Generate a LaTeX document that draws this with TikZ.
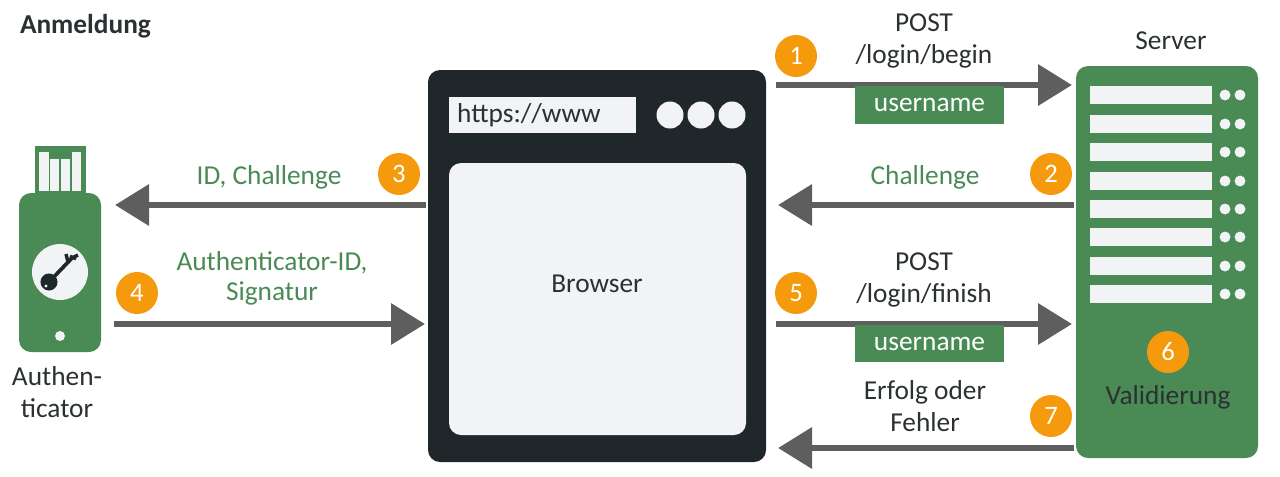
\documentclass[tikz,border=0pt]{standalone}
\usepackage{fontspec}
\setmainfont{Carlito}
\usetikzlibrary{arrows.meta}
\definecolor{gr}{HTML}{4A8A54}
\definecolor{dark}{HTML}{20272B}
\definecolor{txt}{HTML}{2B3033}
\definecolor{pale}{HTML}{F1F3F5}
\definecolor{org}{HTML}{F59A0C}
\definecolor{arr}{HTML}{5E5E5E}
\tikzset{
  x=0.75pt,y=-0.75pt,
  flow/.style={draw=arr,line width=5pt,-{Triangle[length=25.5pt,width=30pt,fill=arr]},shorten >=0pt},
  badge/.style={circle,fill=org,text=white,inner sep=0pt,outer sep=0pt,minimum size=31.5pt,font=\fontsize{20pt}{22pt}\selectfont},
  lbl/.style={text=txt,inner sep=0pt,outer sep=0pt,align=center,font=\fontsize{20.5pt}{22.5pt}\selectfont},
  glbl/.style={lbl,text=gr},
  tag/.style={fill=gr,text=white,inner sep=0pt,outer sep=0pt,minimum width=111.75pt,minimum height=28pt,font=\fontsize{20.5pt}{22.5pt}\selectfont},
  box/.style={inner sep=0pt,outer sep=0pt,rounded corners=9pt},
  dot/.style={circle,fill=pale,inner sep=0pt,outer sep=0pt},
}
\begin{document}
\begin{tikzpicture}
\useasboundingbox (0,0) rectangle (1280,476);
% Browser
\node[box,fill=dark,minimum width=253.5pt,minimum height=294pt] (browser) at (597,266) {};
\node[box,fill=pale,minimum width=222.75pt,minimum height=204pt] (panel) at (597.5,299) {};
\node[fill=pale,inner sep=0pt,outer sep=0pt,minimum width=140.25pt,minimum height=27pt] (addr) at (542.5,115) {};
\node[lbl] (url) at (529,115) {https://www};
\node[dot,minimum size=20.25pt] (b1) at (670,115) {};
\node[dot,minimum size=20.25pt] (b2) at (701,115) {};
\node[dot,minimum size=20.25pt] (b3) at (732,115) {};
\node[lbl] (browsertext) at (597,284) {Browser};
% Server
\node[box,fill=gr,minimum width=136.5pt,minimum height=294pt] (server) at (1167,262) {};
\foreach \i/\a/\b in {1/86/104,2/115/133,3/143/161,4/172/190,5/200/218,6/228/246,7/257/275,8/285/303}{
  \fill[pale] (1090,\a) rectangle (1212,\b);
  \fill[pale] (1225,{(\a+\b)/2}) circle[radius=4.1pt];
  \fill[pale] (1240,{(\a+\b)/2}) circle[radius=4.1pt];
}
\node[lbl] (servertext) at (1171,41) {Server};
\node[lbl] (valid) at (1168,397) {Validierung};
% Authenticator
\fill[gr] (35,146) rectangle (86,195);
\fill[pale] (39,152) rectangle (49,191);
\fill[pale] (50,159) rectangle (59,191);
\fill[pale] (61,159) rectangle (70,191);
\fill[pale] (72,152) rectangle (81,191);
\node[box,fill=gr,minimum width=61.5pt,minimum height=119.25pt] (auth) at (60,272.5) {};
\node[dot,minimum size=42pt] (keydisc) at (60,272) {};
\node[dot,minimum size=7.5pt] (hole) at (60,336) {};
\fill[dark] (49,282) circle[radius=6.4pt];
\draw[dark,line width=2.8pt] (49,282) -- (72,258);
\draw[dark,line width=2.6pt] (68,262) -- (66,254);
\draw[dark,line width=2.6pt] (72,258) -- (78,255);
\draw[dark,line width=2.2pt] (70,256) -- (76,259);
\fill[pale] (46,286) circle[radius=1.2pt];
\node[lbl] (authtext) at (57,392) {Authen-\\[1.5pt]ticator};
% title
\node[lbl,anchor=west,font=\fontsize{20.5pt}{22.5pt}\selectfont\bfseries] (title) at (20,26) {Anmeldung};
% connector ends
\coordinate (a1s) at (776,85);   \coordinate (a1e) at (1072,85);
\coordinate (a2s) at (1074,205); \coordinate (a2e) at (778,205);
\coordinate (a3s) at (426,205);  \coordinate (a3e) at (115,205);
\coordinate (a4s) at (114,324);  \coordinate (a4e) at (425,324);
\coordinate (a5s) at (776,324);  \coordinate (a5e) at (1072,324);
\coordinate (a7s) at (1074,448); \coordinate (a7e) at (778,448);
\draw[flow] (a1s) -- (a1e);
\draw[flow] (a2s) -- (a2e);
\draw[flow] (a3s) -- (a3e);
\draw[flow] (a4s) -- (a4e);
\draw[flow] (a5s) -- (a5e);
\draw[flow] (a7s) -- (a7e);
% badges
\node[badge] (n1) at (796,56) {1};
\node[badge] (n2) at (1051,174) {2};
\node[badge] (n3) at (399,174) {3};
\node[badge] (n4) at (137,293) {4};
\node[badge] (n5) at (796,293) {5};
\node[badge] (n6) at (1168,352) {6};
\node[badge] (n7) at (1051,416) {7};
% labels
\node[lbl] (t1) at (924,41) {POST\\[1.5pt]/login/begin};
\node[tag] (u1) at (929.5,105) {username};
\node[glbl] (t2) at (925,177) {Challenge};
\node[glbl] (t3) at (269,177) {ID, Challenge};
\node[glbl] (t4) at (272,278) {Authenticator-ID,\\[0pt]Signatur};
\node[lbl] (t5) at (924,280) {POST\\[1.5pt]/login/finish};
\node[tag] (u2) at (929.5,343.5) {username};
\node[lbl] (t7) at (925,406) {Erfolg oder\\[1.5pt]Fehler};
\end{tikzpicture}
\end{document}
